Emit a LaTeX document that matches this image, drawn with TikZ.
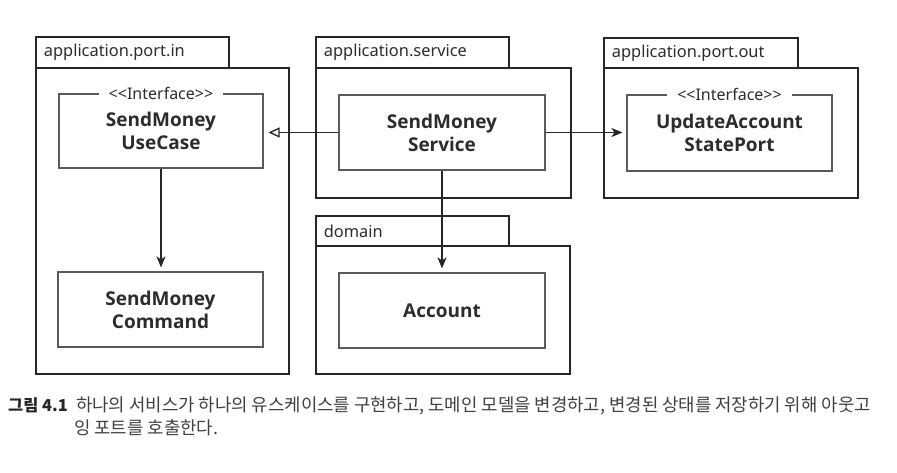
\documentclass[tikz,border=0pt]{standalone}
\usepackage{fontspec}
\setmainfont{Noto Sans}
\newfontfamily\clsfont{Open Sans}
\newfontfamily\cjk{Noto Sans CJK KR}
\usetikzlibrary{arrows.meta}
\definecolor{ink}{HTML}{262626}
\definecolor{boxline}{HTML}{5A5A5A}
\definecolor{txt}{HTML}{2C2C2C}
\definecolor{captxt}{HTML}{404040}
\tikzset{
  pkgtab/.style={draw=ink, line width=1.8pt, anchor=north west, inner xsep=8pt, inner ysep=0pt,
    align=left, font=\fontsize{16.4}{18}\selectfont, text=txt},
  pkgbody/.style={draw=ink, line width=1.8pt, anchor=north west, inner sep=0pt},
  cls/.style={draw=boxline, line width=1.1pt, align=center, inner sep=0pt,
    font=\clsfont\fontsize{19}{23}\selectfont\bfseries, text=txt},
  stereo/.style={fill=white, inner xsep=10pt, inner ysep=1pt, font=\fontsize{16}{18}\selectfont, text=txt},
  dep/.style={draw=ink, line width=1.3pt, -{Stealth[length=11pt, width=9pt, inset=3pt]}, shorten >=4pt},
  realize/.style={draw=ink, line width=1.3pt, -{Triangle[open, length=11pt, width=10pt, line width=1.3pt]}, shorten >=5pt},
  capline/.style={anchor=base west, inner sep=0pt, font=\cjk\fontsize{17.8}{20}\selectfont, text=captxt}
}
\begin{document}
\begin{tikzpicture}[x=1pt, y=-1pt]
\useasboundingbox (0,0) rectangle (897,473);
\fill[white] (0,0) rectangle (897,473);

% package application.port.in
\node[pkgtab, minimum width=193pt, minimum height=31pt, text width=177pt] (intab) at (35,36) {application.port.in};
\node[pkgbody, minimum width=253pt, minimum height=306pt] (inbody) at (35,67) {};
% package application.service
\node[pkgtab, minimum width=193pt, minimum height=31pt, text width=177pt] (svtab) at (315,36) {application.service};
\node[pkgbody, minimum width=255pt, minimum height=130pt] (svbody) at (315,67) {};
% package application.port.out
\node[pkgtab, minimum width=194pt, minimum height=30pt, text width=178pt] (outtab) at (603,37) {application.port.out};
\node[pkgbody, minimum width=254pt, minimum height=130pt] (outbody) at (603,67) {};
% package domain
\node[pkgtab, minimum width=193pt, minimum height=30pt, text width=177pt] (domtab) at (315,215) {domain};
\node[pkgbody, minimum width=254pt, minimum height=128pt] (dombody) at (315,245) {};

% classes
\node[cls, minimum width=204pt, minimum height=74pt] (usecase) at (161,131) {SendMoney\\UseCase};
\node[stereo] (usecaselbl) at (usecase.north) {<{}<Interface>{}>};
\node[cls, minimum width=205pt, minimum height=75pt] (command) at (160.5,309.5) {SendMoney\\Command};
\node[cls, minimum width=206pt, minimum height=75pt] (service) at (442,132.5) {SendMoney\\Service};
\node[cls, minimum width=205pt, minimum height=76pt] (portout) at (729.5,133) {UpdateAccount\\StatePort};
\node[stereo] (portoutlbl) at (portout.north) {<{}<Interface>{}>};
\node[cls, minimum width=206pt, minimum height=75pt] (account) at (442,310.5) {Account};

% connectors
\draw[realize] (service.west) -- (usecase.east |- service.west);
\draw[dep] (service.east) -- (portout.west |- service.east);
\draw[dep] (service.south) -- (account.north);
\draw[dep] (usecase.south) -- (usecase.south |- command.north);

% caption
\node[capline, font=\cjk\fontsize{16.4}{20}\selectfont\bfseries, text=ink] (capfig) at (8,411) {그림 4.1};
\node[capline] (cap1) at (76,411) {하나의 서비스가 하나의 유스케이스를 구현하고, 도메인 모델을 변경하고, 변경된 상태를 저장하기 위해 아웃고};
\node[capline] (cap2) at (74,434) {잉 포트를 호출한다.};
\end{tikzpicture}
\end{document}
